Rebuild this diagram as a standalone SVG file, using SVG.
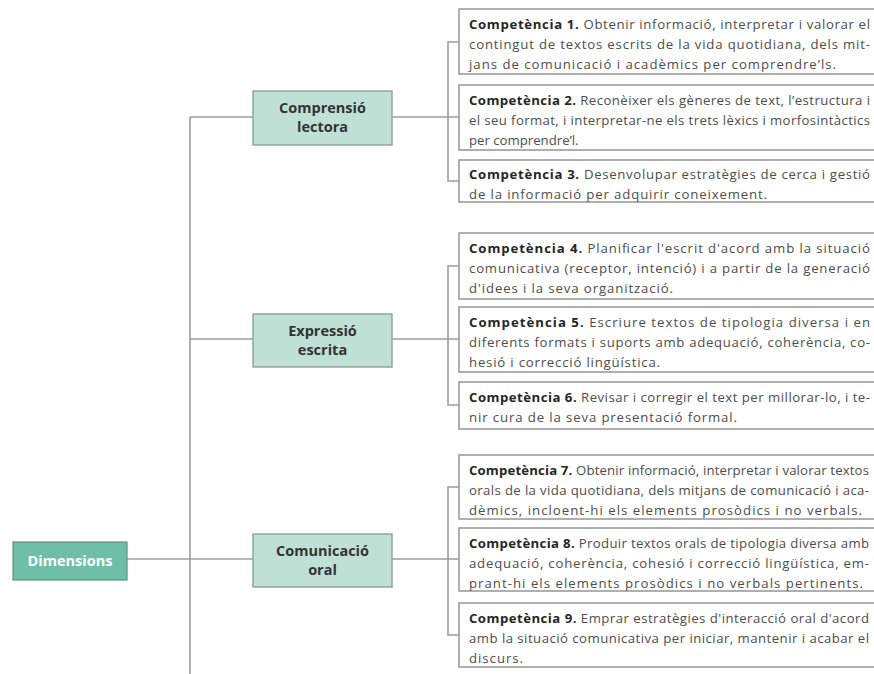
<svg xmlns="http://www.w3.org/2000/svg" width="874" height="674" viewBox="0 0 874 674">
<style>
.bg{fill:#ffffff}
.ln{stroke:#9c9c9c;stroke-width:1.6;fill:none}
.root{fill:#6fbfa8;stroke:#5f8f82;stroke-width:1.2}
.dim{fill:#bfe1d5;stroke:#8f9e98;stroke-width:1.4}
.comp{fill:#ffffff;stroke:#9c9c9c;stroke-width:1.6}
.rt{font-family:"Open Sans","Noto Sans",sans-serif;font-weight:700;font-size:14.5px;fill:#ffffff;text-anchor:middle}
.dt{font-family:"Open Sans","Noto Sans",sans-serif;font-weight:700;font-size:14.5px;fill:#333333;text-anchor:middle}
.ct{font-family:"Open Sans","Noto Sans",sans-serif;font-size:13.2px;fill:#4d4d4d}
.b{font-weight:700;fill:#262626}
</style>
<rect class="bg" x="0" y="0" width="874" height="674"/>
<g id="connectors">
<path class="ln" d="M127 559 H253"/>
<path class="ln" d="M190 117 V674"/>
<path class="ln" d="M190 117 H253"/>
<path class="ln" d="M190 339 H253"/>
<path class="ln" d="M392 117 H448"/>
<path class="ln" d="M392 339 H448"/>
<path class="ln" d="M392 559 H448"/>
<path class="ln" d="M459 42 H448 V181 H459 M448 117 H459"/>
<path class="ln" d="M459 266 H448 V405 H459 M448 339 H459"/>
<path class="ln" d="M459 487 H448 V635 H459 M448 559 H459"/>
</g>
<g id="dimensions">
<rect class="root" x="13" y="542" width="114" height="38"/>
<text class="rt" x="70" y="566">Dimensions</text>
</g>
<g id="comprensio">
<rect class="dim" x="253" y="91" width="139" height="54"/>
<text class="dt" x="322.5" y="113">Comprensió</text>
<text class="dt" x="322.5" y="132">lectora</text>
</g>
<g id="expressio">
<rect class="dim" x="253" y="314" width="139" height="53"/>
<text class="dt" x="322.5" y="335.5">Expressió</text>
<text class="dt" x="322.5" y="354.5">escrita</text>
</g>
<g id="comunicacio">
<rect class="dim" x="253" y="534" width="139" height="53"/>
<text class="dt" x="322.5" y="555.5">Comunicació</text>
<text class="dt" x="322.5" y="574.5">oral</text>
</g>
<g id="c1">
<rect class="comp" x="459" y="9" width="421" height="65"/>
<text class="ct" x="469" y="28.5" textLength="401"><tspan class="b">Competència 1.</tspan> Obtenir informació, interpretar i valorar el</text>
<text class="ct" x="469" y="48.5" textLength="401">contingut de textos escrits de la vida quotidiana, dels mit-</text>
<text class="ct" x="469" y="68.5" textLength="367">jans de comunicació i acadèmics per comprendre’ls.</text>
</g>
<g id="c2">
<rect class="comp" x="459" y="85" width="421" height="65"/>
<text class="ct" x="469" y="104.5" textLength="401"><tspan class="b">Competència 2.</tspan> Reconèixer els gèneres de text, l’estructura i</text>
<text class="ct" x="469" y="124.5" textLength="401">el seu format, i interpretar-ne els trets lèxics i morfosintàctics</text>
<text class="ct" x="469" y="144.5">per comprendre’l.</text>
</g>
<g id="c3">
<rect class="comp" x="459" y="160" width="421" height="42"/>
<text class="ct" x="469" y="179" textLength="401"><tspan class="b">Competència 3.</tspan> Desenvolupar estratègies de cerca i gestió</text>
<text class="ct" x="469" y="198.5" textLength="298">de la informació per adquirir coneixement.</text>
</g>
<g id="c4">
<rect class="comp" x="459" y="233" width="421" height="66"/>
<text class="ct" x="469" y="252.5" textLength="401"><tspan class="b">Competència 4.</tspan> Planificar l'escrit d'acord amb la situació</text>
<text class="ct" x="469" y="272.5" textLength="401">comunicativa (receptor, intenció) i a partir de la generació</text>
<text class="ct" x="469" y="292.5" textLength="204">d'idees i la seva organització.</text>
</g>
<g id="c5">
<rect class="comp" x="459" y="307" width="421" height="65"/>
<text class="ct" x="469" y="326.5" textLength="401"><tspan class="b">Competència 5.</tspan> Escriure textos de tipologia diversa i en</text>
<text class="ct" x="469" y="346.5" textLength="401">diferents formats i suports amb adequació, coherència, co-</text>
<text class="ct" x="469" y="366.5" textLength="191">hesió i correcció lingüística.</text>
</g>
<g id="c6">
<rect class="comp" x="459" y="382" width="421" height="47"/>
<text class="ct" x="469" y="401.5" textLength="401"><tspan class="b">Competència 6.</tspan> Revisar i corregir el text per millorar-lo, i te-</text>
<text class="ct" x="469" y="421.5" textLength="268">nir cura de la seva presentació formal.</text>
</g>
<g id="c7">
<rect class="comp" x="459" y="455" width="421" height="64"/>
<text class="ct" x="469" y="474.5" textLength="400"><tspan class="b">Competència 7.</tspan> Obtenir informació, interpretar i valorar textos</text>
<text class="ct" x="469" y="494.5" textLength="400">orals de la vida quotidiana, dels mitjans de comunicació i aca-</text>
<text class="ct" x="469" y="514.5" textLength="393">dèmics, incloent-hi els elements prosòdics i no verbals.</text>
</g>
<g id="c8">
<rect class="comp" x="459" y="528" width="421" height="63"/>
<text class="ct" x="469" y="547.5" textLength="400"><tspan class="b">Competència 8.</tspan> Produir textos orals de tipologia diversa amb</text>
<text class="ct" x="469" y="567.5" textLength="400">adequació, coherència, cohesió i correcció lingüística, em-</text>
<text class="ct" x="469" y="587.5" textLength="394">prant-hi els elements prosòdics i no verbals pertinents.</text>
</g>
<g id="c9">
<rect class="comp" x="459" y="603" width="421" height="64"/>
<text class="ct" x="469" y="622.5" textLength="400"><tspan class="b">Competència 9.</tspan> Emprar estratègies d'interacció oral d'acord</text>
<text class="ct" x="469" y="642.5" textLength="400">amb la situació comunicativa per iniciar, mantenir i acabar el</text>
<text class="ct" x="469" y="662.5" textLength="54">discurs.</text>
</g>
</svg>
